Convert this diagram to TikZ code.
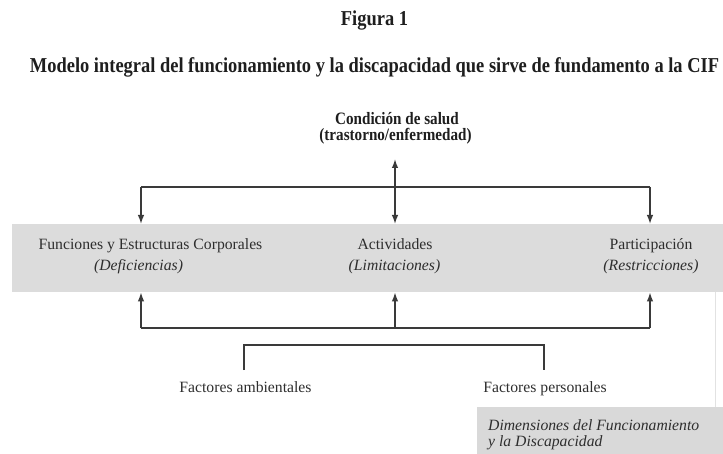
\documentclass[tikz,border=0pt]{standalone}
\usepackage{fontspec}
\setmainfont{Liberation Serif}
\newfontfamily\nbold{Liberation Serif}[FakeStretch=0.87]
\usetikzlibrary{arrows.meta}
\definecolor{bandgray}{HTML}{DCDCDC}
\definecolor{boxgray}{HTML}{D9D9D9}
\definecolor{linegray}{HTML}{3A3A3A}
\definecolor{txtdark}{HTML}{1E1E1E}
\definecolor{txtband}{HTML}{2E2E2E}
\definecolor{faint}{HTML}{E2E2E2}
\tikzset{
  headtxt/.style={inner sep=0pt, anchor=base, text=txtdark, font=\nbold\bfseries\fontsize{21.2}{24}\selectfont},
  condtxt/.style={inner sep=0pt, anchor=base, text=txtdark, font=\nbold\bfseries\fontsize{17.4}{20}\selectfont},
  bodytxt/.style={inner sep=0pt, anchor=base, text=txtband, font=\fontsize{15.7}{18}\selectfont},
  itxt/.style={inner sep=0pt, anchor=base, text=txtband, font=\itshape\fontsize{15.7}{18}\selectfont},
  conn/.style={draw=linegray, line width=1.4pt},
  arr/.style={conn, -{Latex[length=9pt,width=6.5pt]}},
  darr/.style={conn, {Latex[length=9pt,width=6.5pt]}-{Latex[length=9pt,width=6.5pt]}},
  bandbox/.style={fill=bandgray, draw=none, inner sep=0pt, anchor=north west},
}
\begin{document}
\begin{tikzpicture}[x=1pt,y=-1pt]
\useasboundingbox (0,0) rectangle (723,454);
% titles
\node[headtxt] (fig) at (374.5,26) {Figura 1};
\node[headtxt] (title) at (374.5,73) {Modelo integral del funcionamiento y la discapacidad que sirve de fundamento a la CIF};
% health condition
\node[condtxt] (cond1) at (397,125) {Condición de salud};
\node[condtxt] (cond2) at (395.5,141) {(trastorno/enfermedad)};
% band
\node[bandbox, minimum width=711pt, minimum height=68pt] (band) at (12,224) {};
\node[bodytxt] (fn1) at (150.5,250) {Funciones y Estructuras Corporales};
\node[itxt] (fn2) at (138.5,271) {(Deficiencias)};
\node[bodytxt] (act1) at (395,250) {Actividades};
\node[itxt] (act2) at (394.5,271) {(Limitaciones)};
\node[bodytxt] (par1) at (651,250) {Participación};
\node[itxt] (par2) at (651,271) {(Restricciones)};
% upper connectors
\coordinate (ctop) at (395,159);
\coordinate (hl) at (141,187);
\coordinate (hr) at (650,187);
\draw[conn] (hl) -- (hr);
\draw[arr] (hl) -- (hl |- band.north);
\draw[arr] (hr) -- (hr |- band.north);
\draw[darr] (ctop) -- (ctop |- band.north);
% lower connectors
\coordinate (bl) at (141,328);
\coordinate (bm) at (395,328);
\coordinate (br) at (650,328);
\draw[conn] (bl) -- (br);
\draw[arr] (bl) -- (bl |- band.south);
\draw[arr] (bm) -- (bm |- band.south);
\draw[arr] (br) -- (br |- band.south);
% contextual factors
\node[bodytxt] (fa) at (245.5,392) {Factores ambientales};
\node[bodytxt] (fp) at (545,392) {Factores personales};
\coordinate (ba) at (244,370);
\coordinate (bp) at (544,370);
\draw[conn] (ba) -- ++(0,-25) -| (bp);
% dimensions box
\node[bandbox, fill=boxgray, minimum width=246pt, minimum height=47pt] (dim) at (477,407) {};
\node[itxt, anchor=base west] (dim1) at (488,430) {Dimensiones del Funcionamiento};
\node[itxt, anchor=base west] (dim2) at (488,446) {y la Discapacidad};
\coordinate (vl) at (715,292);
\draw[draw=faint, line width=1pt] (vl) -- (vl |- dim.north);
\end{tikzpicture}
\end{document}
